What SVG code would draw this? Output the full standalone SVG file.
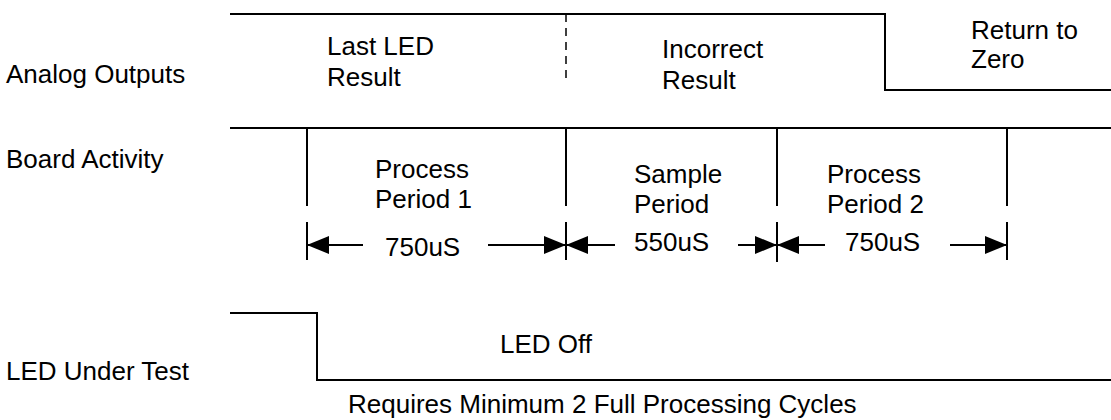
<svg xmlns="http://www.w3.org/2000/svg" width="1111" height="420" viewBox="0 0 1111 420">
<style>
text{font-family:"Liberation Sans",Arial,sans-serif;font-size:26px;fill:#000}
.w{fill:none;stroke:#000;stroke-width:2}
.d{fill:none;stroke:#000;stroke-width:1.5;stroke-dasharray:8 6}
.a{fill:none;stroke:#000;stroke-width:2;marker-end:url(#ah)}
</style>
<defs>
<marker id="ah" markerUnits="userSpaceOnUse" markerWidth="23" markerHeight="20" refX="22" refY="10" orient="auto">
<path d="M0,1 L22,10 L0,19 z" fill="#000"/>
</marker>
</defs>
<g id="labels">
<text x="6" y="83">Analog Outputs</text>
<text x="6" y="168">Board Activity</text>
<text x="6" y="380">LED Under Test</text>
</g>
<g id="analog">
<path class="w" d="M230,14 H885 V90 H1111"/>
<path class="d" d="M566,14 V82"/>
<text x="327" y="55">Last LED</text>
<text x="327" y="86">Result</text>
<text x="662" y="58">Incorrect</text>
<text x="662" y="89">Result</text>
<text x="971" y="39">Return to</text>
<text x="971" y="68">Zero</text>
</g>
<g id="board">
<path class="w" d="M230,128 H1111 M307,128 V206 M566,128 V206 M777,128 V206 M1007,128 V206"/>
<text x="375" y="178">Process</text>
<text x="375" y="208">Period 1</text>
<text x="634" y="183">Sample</text>
<text x="634" y="213">Period</text>
<text x="827" y="183">Process</text>
<text x="827" y="213">Period 2</text>
</g>
<g id="connectors">
<path class="w" d="M307,222 V260 M566,222 V260 M777,222 V262 M1007,222 V260"/>
<path class="a" d="M363,245 H307"/>
<path class="a" d="M488,245 H566"/>
<path class="a" d="M615,245 H566"/>
<path class="a" d="M738,245 H777"/>
<path class="a" d="M825,245 H777"/>
<path class="a" d="M950,245 H1007"/>
<text x="385" y="256">750uS</text>
<text x="634" y="251">550uS</text>
<text x="845" y="251">750uS</text>
</g>
<g id="led">
<path class="w" d="M230,313 H317 V380 H1111"/>
<text x="500" y="353">LED Off</text>
<text x="348" y="413">Requires Minimum 2 Full Processing Cycles</text>
</g>
</svg>
